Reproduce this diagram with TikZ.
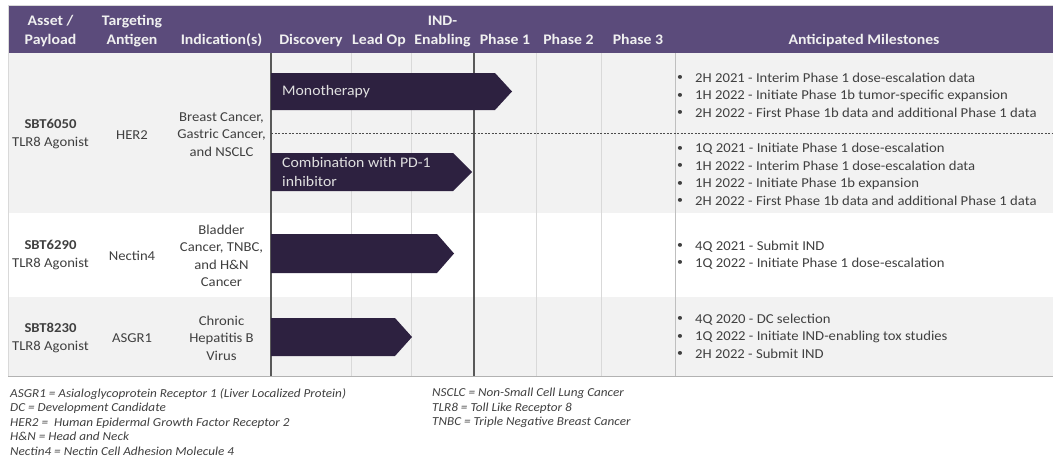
\documentclass[tikz,border=0pt]{standalone}
\usepackage{fontspec}
\setmainfont{Carlito}[FakeStretch=1.08]
\usetikzlibrary{calc}
\definecolor{hdrpurple}{HTML}{5B4B7B}
\definecolor{bardark}{HTML}{2D2140}
\definecolor{rowgray}{HTML}{F2F2F2}
\definecolor{txtgray}{HTML}{404040}
\definecolor{gridgray}{HTML}{D9D9D9}
\definecolor{phasegray}{HTML}{595959}
\newcommand{\bodyfont}{\fontsize{13.6}{17.5}\selectfont}
\newcommand{\mitem}[1]{\makebox[18pt][l]{\raisebox{1.6pt}{\fontsize{11}{11}\selectfont\textbullet}}#1}
\tikzset{
  hdrcell/.style={
    anchor=south,
    align=center,
    inner sep=0pt,
    text=white!94!black,
    font=\fontsize{14.6}{19}\selectfont\bfseries},
  namecell/.style={
    align=center,
    inner sep=0pt,
    text=txtgray,
    font=\bodyfont},
  milestone/.style={
    anchor=west,
    align=left,
    inner sep=0pt,
    text=txtgray,
    font=\bodyfont},
  progbar/.style={fill=bardark, draw=none},
  bartext/.style={
    anchor=west,
    align=left,
    inner sep=0pt,
    text=white!88!black,
    font=\fontsize{14.6}{19}\selectfont},
  gridline/.style={draw=gridgray, line width=0.8pt},
  phaseline/.style={draw=phasegray, line width=1.2pt},
  splitline/.style={draw=black!70, line width=0.6pt, dash pattern=on 2pt off 1.5pt},
  footnote/.style={
    anchor=north west,
    align=left,
    inner sep=0pt,
    text=txtgray,
    font=\fontsize{12.2}{14.5}\selectfont\itshape},
}

\begin{document}
\begin{tikzpicture}[x=1pt, y=-1pt]
  \path[use as bounding box] (0,0) rectangle (1053,463);
  \fill[white] (0,0) rectangle (1053,463);
  % table background
  \fill[rowgray] (8,53) rectangle (1053,213);
  \fill[rowgray] (8,297) rectangle (1053,376);
  \fill[hdrpurple] (8,6) rectangle (1053,53);
  \draw[gridline] (8,5) -- (1053,5);
  \draw[gridline] (8,5) -- (8,376);
  \draw[draw=black!30, line width=1pt] (8,376) -- (1053,376);
  % stage columns
  \foreach \cx in {351,411,536,601}
    \draw[gridline] (\cx,53) -- (\cx,376);
  \draw[gridline, draw=black!25] (675,53) -- (675,376);
  \draw[phaseline] (271,53) -- (271,376);
  \draw[phaseline] (474,53) -- (474,376);
  \draw[splitline] (271,133) -- (1053,133);
  % progress bars
  \fill[progbar] (271,73) -- (495,73) -- (512,91.5) -- (495,110) -- (271,110) -- cycle;
  \fill[progbar] (271,153) -- (453,153) -- (472,172) -- (453,191) -- (271,191) -- cycle;
  \fill[progbar] (271,234) -- (437,234) -- (454,253.5) -- (437,273) -- (271,273) -- cycle;
  \fill[progbar] (271,318) -- (395,318) -- (412,337) -- (395,356) -- (271,356) -- cycle;
  \node[bartext] (mono) at (282,92) {Monotherapy};
  \node[bartext] (combo) at (282,172) {Combination with PD-1\\inhibitor};
  % header
  \node[hdrcell] (asset) at (50.5,50) {Asset /\\Payload\strut};
  \node[hdrcell] (antigen) at (132,50) {Targeting\\Antigen\strut};
  \node[hdrcell] (indic) at (221.5,50) {Indication(s)\strut};
  \node[hdrcell] (disc) at (311,50) {Discovery\strut};
  \node[hdrcell] (leadop) at (379,50) {Lead Op\strut};
  \node[hdrcell] (indenab) at (442.5,50) {IND-\\Enabling\strut};
  \node[hdrcell] (ph1) at (505,50) {Phase 1\strut};
  \node[hdrcell] (ph2) at (568.5,50) {Phase 2\strut};
  \node[hdrcell] (ph3) at (638,50) {Phase 3\strut};
  \node[hdrcell] (miles) at (864,50) {Anticipated Milestones\strut};
  % SBT6050
  \node[namecell] (sbt6050) at (50.5,134) {\textbf{SBT6050}\\TLR8 Agonist};
  \node[namecell] (her2) at (132,135) {HER2};
  \node[namecell] (ind6050) at (221.5,134.5) {Breast Cancer,\\Gastric Cancer,\\and NSCLC};
  \node[milestone] (ms6050a) at (677,95) {\mitem{2H 2021 - Interim Phase 1 dose-escalation data}\\
    \mitem{1H 2022 - Initiate Phase 1b tumor-specific expansion}\\
    \mitem{2H 2022 - First Phase 1b data and additional Phase 1 data}};
  \node[milestone] (ms6050b) at (677,174.5) {\mitem{1Q 2021 - Initiate Phase 1 dose-escalation}\\
    \mitem{1H 2022 - Interim Phase 1 dose-escalation data}\\
    \mitem{1H 2022 - Initiate Phase 1b expansion}\\
    \mitem{2H 2022 - First Phase 1b data and additional Phase 1 data}};
  % SBT6290
  \node[namecell] (sbt6290) at (50.5,255) {\textbf{SBT6290}\\TLR8 Agonist};
  \node[namecell] (nectin) at (132,256) {Nectin4};
  \node[namecell] (ind6290) at (221.5,256) {Bladder\\Cancer, TNBC,\\and H\&N\\Cancer};
  \node[milestone] (ms6290) at (677,255) {\mitem{4Q 2021 - Submit IND}\\
    \mitem{1Q 2022 - Initiate Phase 1 dose-escalation}};
  % SBT8230
  \node[namecell] (sbt8230) at (50.5,338) {\textbf{SBT8230}\\TLR8 Agonist};
  \node[namecell] (asgr) at (132,338) {ASGR1};
  \node[namecell] (ind8230) at (221.5,338) {Chronic\\Hepatitis B\\Virus};
  \node[milestone] (ms8230) at (677,336) {\mitem{4Q 2020 - DC selection}\\
    \mitem{1Q 2022 - Initiate IND-enabling tox studies}\\
    \mitem{2H 2022 - Submit IND}};
  % abbreviations
  \node[footnote] (abbrleft) at (10,388) {ASGR1 = Asialoglycoprotein Receptor 1 (Liver Localized Protein)\\
    DC = Development Candidate\\
    HER2 =\ \ Human Epidermal Growth Factor Receptor 2\\
    H\&N = Head and Neck\\
    Nectin4 = Nectin Cell Adhesion Molecule 4};
  \node[footnote] (abbrright) at (432,388) {NSCLC = Non-Small Cell Lung Cancer\\
    TLR8 = Toll Like Receptor 8\\
    TNBC = Triple Negative Breast Cancer};
\end{tikzpicture}
\end{document}
